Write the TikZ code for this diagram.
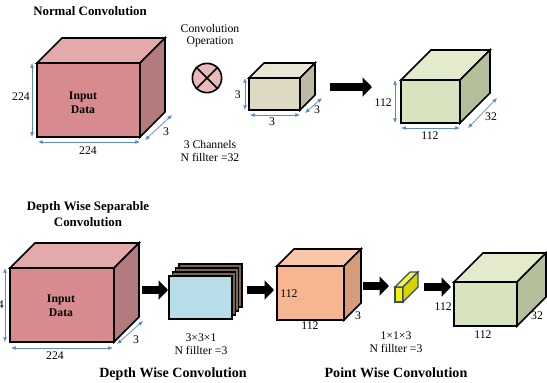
\documentclass[tikz,border=0pt]{standalone}
\usepackage{fontspec}
\setmainfont{Liberation Serif}
\usetikzlibrary{arrows.meta}
\definecolor{PinkFront}{HTML}{D78B8F}
\definecolor{PinkTop}{HTML}{E3A9AB}
\definecolor{PinkSide}{HTML}{B27B7D}
\definecolor{BeigeFront}{HTML}{DDD9C3}
\definecolor{BeigeTop}{HTML}{E9E6D5}
\definecolor{BeigeSide}{HTML}{BDB9A3}
\definecolor{GreenFront}{HTML}{D8E4BF}
\definecolor{GreenTop}{HTML}{E3EBCC}
\definecolor{GreenSide}{HTML}{B5BF9B}
\definecolor{OrangeFront}{HTML}{F7B690}
\definecolor{OrangeTop}{HTML}{F9C7A6}
\definecolor{OrangeSide}{HTML}{D49C79}
\definecolor{BlueFront}{HTML}{B7DDE8}
\definecolor{StackBack}{HTML}{7A6656}
\definecolor{YellowFront}{HTML}{F4F20C}
\definecolor{YellowTop}{HTML}{F7F54A}
\definecolor{YellowSide}{HTML}{D6D400}
\definecolor{PointBlue}{HTML}{3A4A6A}
\definecolor{OpPink}{HTML}{EBB8BB}
\definecolor{DimBlue}{HTML}{5A8AC6}

% front top-left x, y, width, height, depth, front, top, side
\newcommand{\drawCuboid}[8]{%
  \filldraw[cubeline, fill=#6] (#1,#2) rectangle ({#1+#3},{#2+#4});
  \filldraw[cubeline, fill=#7] (#1,#2) -- ({#1+#5},{#2-#5}) -- ({#1+#3+#5},{#2-#5}) -- ({#1+#3},#2) -- cycle;
  \filldraw[cubeline, fill=#8] ({#1+#3},#2) -- ({#1+#3+#5},{#2-#5}) -- ({#1+#3+#5},{#2+#4-#5}) -- ({#1+#3},{#2+#4}) -- cycle;
}

\begin{document}
\begin{tikzpicture}[
    x=0.03cm, y=-0.03cm,
    cubeline/.style={draw=black, line width=1.5pt},
    dimarrow/.style={DimBlue, line width=0.6pt, {Latex[length=4pt,width=3.5pt]}-{Latex[length=4pt,width=3.5pt]}},
    flowarrow/.style={line width=6.8pt, -{Triangle[length=8pt,width=16pt]}},
    lbl/.style={font=\fontsize{10}{11}\selectfont, inner sep=0pt, align=center},
    title/.style={font=\fontsize{11}{13}\selectfont\bfseries, inner sep=0pt, align=center},
    caption/.style={font=\fontsize{12}{14}\selectfont\bfseries, inner sep=0pt},
    opcircle/.style={circle, draw, line width=1.4pt, fill=OpPink, minimum size=25pt, inner sep=0pt}
 ]
\useasboundingbox (0,0) rectangle (547,383);

%% normal convolution
\node[title] (titleNormal) at (90,11) {Normal Convolution};

\drawCuboid{37}{63}{103}{74}{25}{PinkFront}{PinkTop}{PinkSide}
\node[lbl, font=\fontsize{10}{12}\selectfont\bfseries] (inputTop) at (83,103) {Input\\Data};
\draw[dimarrow] (32,63) -- (32,137);
\draw[dimarrow] (38,142) -- (140,142);
\draw[dimarrow] (145,140) -- (172,115);
\node[lbl, anchor=east] (inTopH) at (30,97) {224};
\node[lbl] (inTopW) at (88,151) {224};
\node[lbl] (inTopD) at (166,132) {3};

\node[lbl, font=\fontsize{10}{10.5}\selectfont] (opText) at (210,36) {Convolution\\Operation};
\node[opcircle] (convOp) at (207,78) {};
\draw[line width=1.4pt] (convOp.north west) -- (convOp.south east);
\draw[line width=1.4pt] (convOp.north east) -- (convOp.south west);
\node[lbl] (chanText) at (210,151) {3 Channels\\N fillter =32};

\drawCuboid{249}{78}{51}{32}{15}{BeigeFront}{BeigeTop}{BeigeSide}
\draw[dimarrow] (245,78) -- (245,110);
\draw[dimarrow] (250,115) -- (300,115);
\draw[dimarrow] (305,113) -- (322,98);
\node[lbl, anchor=east] (kerH) at (241,95) {3};
\node[lbl] (kerW) at (272,122) {3};
\node[lbl] (kerD) at (317,110) {3};

\coordinate (flowA1) at (330,87);
\coordinate (flowA2) at (372,87);
\draw[flowarrow] (flowA1) -- (flowA2);

\drawCuboid{401}{80}{59}{43}{30}{GreenFront}{GreenTop}{GreenSide}
\draw[dimarrow] (395,80) -- (395,123);
\draw[dimarrow] (401,128) -- (460,128);
\draw[dimarrow] (468,128) -- (497,98);
\node[lbl, anchor=east] (outTopH) at (392,103) {112};
\node[lbl] (outTopW) at (430,136) {112};
\node[lbl] (outTopD) at (491,117) {32};

%% depth wise separable convolution
\node[title] (titleSep) at (88,214) {Depth Wise Separable\\Convolution};

\drawCuboid{10}{268}{104}{74}{25}{PinkFront}{PinkTop}{PinkSide}
\node[lbl, font=\fontsize{10}{12}\selectfont\bfseries] (inputBot) at (61,306) {Input\\Data};
\draw[dimarrow] (5,268) -- (5,342);
\draw[dimarrow] (11,348) -- (113,348);
\draw[dimarrow] (117,344) -- (143,321);
\node[lbl, anchor=east] (inBotH) at (4,305) {224};
\node[lbl] (inBotW) at (55,356) {224};
\node[lbl] (inBotD) at (136,340) {3};

\coordinate (flowB1) at (142,290);
\coordinate (flowB2) at (168,290);
\draw[flowarrow] (flowB1) -- (flowB2);

% stacked depth wise kernels
\foreach \k in {3,2,1} {
    \filldraw[draw=black, line width=1.2pt, fill=StackBack] ({169+3.3*\k},{276-4*\k}) rectangle ++(63,43);
}
\filldraw[cubeline, fill=BlueFront] (169,276) rectangle (232,319);
\node[lbl] (dwText) at (201,344) {3×3×1\\N fillter =3};
\node[caption] (dwCaption) at (173,374) {Depth Wise Convolution};

\coordinate (flowC1) at (247,290);
\coordinate (flowC2) at (274,290);
\draw[flowarrow] (flowC1) -- (flowC2);

\drawCuboid{277}{266}{67}{54}{17}{OrangeFront}{OrangeTop}{OrangeSide}
\node[lbl] (midH) at (289,294) {112};
\node[lbl] (midW) at (310,326) {112};
\node[lbl] (midD) at (358,316) {3};

\coordinate (flowD1) at (363,286);
\coordinate (flowD2) at (389,286);
\draw[flowarrow] (flowD1) -- (flowD2);

\begin{scope}[cubeline/.style={draw=PointBlue, line width=1.2pt}]
\drawCuboid{395}{287}{8}{15}{15}{YellowFront}{YellowTop}{YellowSide}
\end{scope}
\node[lbl] (pwText) at (396,342) {1×1×3\\N fillter =3};
\node[caption] (pwCaption) at (396,373) {Point Wise Convolution};

\coordinate (flowE1) at (424,287);
\coordinate (flowE2) at (451,287);
\draw[flowarrow] (flowE1) -- (flowE2);

\drawCuboid{454}{282}{63}{44}{29}{GreenFront}{GreenTop}{GreenSide}
\node[lbl, anchor=east] (outBotH) at (452,307) {112};
\node[lbl] (outBotW) at (483,335) {112};
\node[lbl] (outBotD) at (537,316) {32};

\end{tikzpicture}
\end{document}
